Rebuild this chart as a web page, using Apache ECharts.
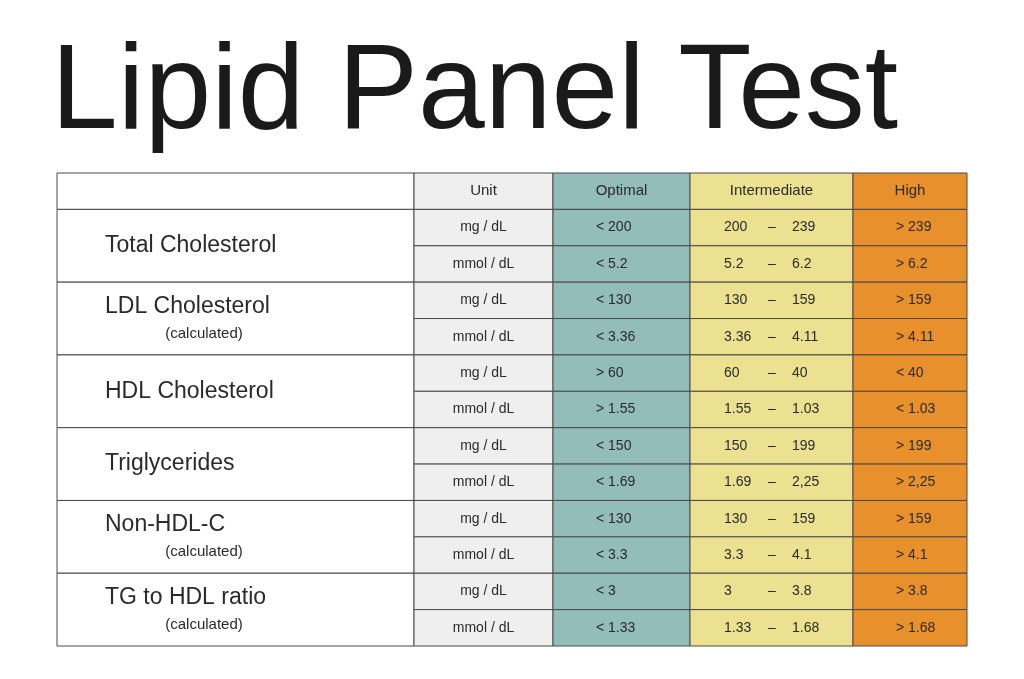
<!DOCTYPE html>
<html><head><meta charset="utf-8">
<script src="https://cdn.jsdelivr.net/npm/echarts@6/dist/echarts.min.js"></script>
<style>html,body{margin:0;padding:0;background:#fff}#c{width:1024px;height:679px}</style>
</head><body><div id="c"></div>
<script>
const headers = ['', 'Unit', 'Optimal', 'Intermediate', 'High'];
const tests = ['Total Cholesterol', 'LDL Cholesterol', 'HDL Cholesterol', 'Triglycerides', 'Non-HDL-C', 'TG to HDL ratio'];
const subs = ['', '(calculated)', '', '', '(calculated)', '(calculated)'];
const units = ['mg / dL', 'mmol / dL'];
const optimal = ['< 200','< 5.2','< 130','< 3.36','> 60','> 1.55','< 150','< 1.69','< 130','< 3.3','< 3','< 1.33'];
const interLow = ['200','5.2','130','3.36','60','1.55','150','1.69','130','3.3','3','1.33'];
const interHigh = ['239','6.2','159','4.11','40','1.03','199','2,25','159','4.1','3.8','1.68'];
const high = ['> 239','> 6.2','> 159','> 4.11','< 40','< 1.03','> 199','> 2,25','> 159','> 4.1','> 3.8','> 1.68'];

const colEdges = [0, 357, 496, 633, 796, 910];
const colColors = ['#ffffff', '#efefef', '#93bdb8', '#ebe190', '#e8912c'];

const cells = [];
headers.forEach((h, c) => cells.push({col: c, row: 0, span: 1, text: h, kind: 'head'}));
tests.forEach((t, i) => cells.push({col: 0, row: 1 + 2 * i, span: 2, text: t, sub: subs[i], kind: 'label'}));
for (let r = 0; r < 12; r++) {
  cells.push({col: 1, row: r + 1, span: 1, text: units[r % 2], kind: 'c'});
  cells.push({col: 2, row: r + 1, span: 1, text: optimal[r], kind: 'l'});
  cells.push({col: 3, row: r + 1, span: 1, text: interLow[r], text2: interHigh[r], kind: 'range'});
  cells.push({col: 4, row: r + 1, span: 1, text: high[r], kind: 'l'});
}

const font = 'Liberation Sans, Arial, sans-serif';
function renderItem(params, api) {
  const cell = cells[params.dataIndex];
  const p0 = api.coord([colEdges[cell.col], cell.row]);
  const p1 = api.coord([colEdges[cell.col + 1], cell.row + cell.span]);
  const x = p0[0], y = p0[1], w = p1[0] - p0[0], h = p1[1] - p0[1];
  const cy = y + h / 2;
  const children = [{type: 'rect', shape: {x, y, width: w, height: h},
    style: {fill: colColors[cell.col], stroke: '#4a4a4a', lineWidth: 1}}];
  const txt = (t, tx, ty, size, align) => ({type: 'text', style: {text: t, x: tx, y: ty, fill: '#2a2a2a',
    font: size + 'px ' + font, textAlign: align, textVerticalAlign: 'middle'}});
  if (cell.kind === 'head') {
    children.push(txt(cell.text, x + w / 2, cy, 15, 'center'));
  } else if (cell.kind === 'label') {
    if (cell.sub) {
      children.push(txt(cell.text, x + 48, cy - 12, 23, 'left'));
      children.push(txt(cell.sub, x + 147, cy + 15, 15, 'center'));
    } else {
      children.push(txt(cell.text, x + 48, cy, 23, 'left'));
    }
  } else if (cell.kind === 'c') {
    children.push(txt(cell.text, x + w / 2, cy, 14, 'center'));
  } else if (cell.kind === 'l') {
    children.push(txt(cell.text, x + 43, cy, 14, 'left'));
  } else {
    children.push(txt(cell.text, x + 34, cy, 14, 'left'));
    children.push(txt('–', x + 82, cy, 14, 'center'));
    children.push(txt(cell.text2, x + 102, cy, 14, 'left'));
  }
  return {type: 'group', children};
}

const chart = echarts.init(document.getElementById('c'));
chart.setOption({
  animation: false,
  title: {text: 'Lipid Panel Test', left: 46, top: 30,
    textStyle: {fontFamily: font, fontSize: 120, fontWeight: 'normal', color: '#1a1a1a'}},
  grid: {left: 57, top: 173, width: 910, height: 473},
  xAxis: {type: 'value', min: 0, max: 910, show: false},
  yAxis: {type: 'value', min: 0, max: 13, inverse: true, show: false},
  series: [{type: 'custom', renderItem, data: cells.map((c) => [colEdges[c.col], c.row]), silent: true}]
});
</script></body></html>
